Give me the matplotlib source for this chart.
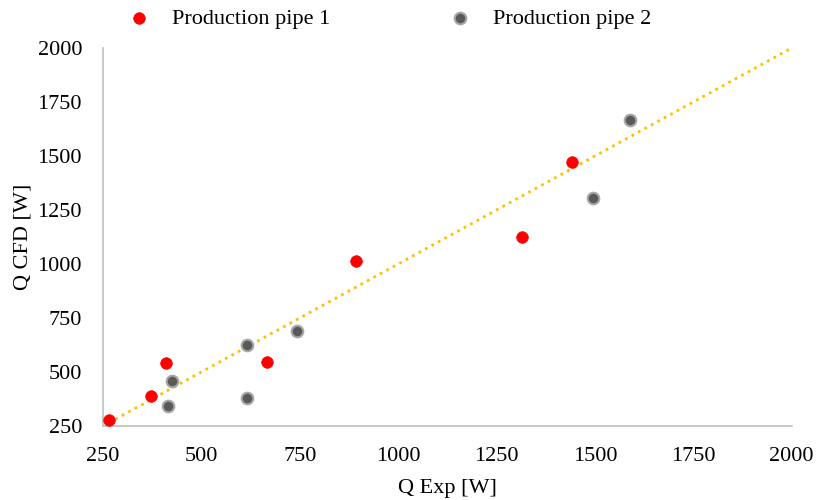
import matplotlib
matplotlib.use("Agg")
import matplotlib.pyplot as plt

plt.rcParams['font.family'] = ['Liberation Serif', 'DejaVu Serif']

# measured vs computed heat flow
pipe1_exp = [265, 372, 410, 667, 893, 1314, 1441]
pipe1_cfd = [278, 389, 542, 546, 1014, 1125, 1472]

pipe2_exp = [415, 425, 616, 616, 743, 1495, 1589]
pipe2_cfd = [343, 458, 625, 380, 690, 1306, 1667]

line_x = [265, 2000]
line_y = [265, 2000]

fig = plt.figure(figsize=(8.17, 5), dpi=100)
ax = fig.add_axes([0.126, 0.148, 0.843, 0.756])

ax.plot(line_x, line_y, linestyle=':', color='#FFC000', linewidth=2, zorder=1)
ax.scatter(pipe1_exp, pipe1_cfd, s=70, color='#FF0000', edgecolors='#FF0000',
           linewidths=0.5, label='Production pipe 1', zorder=3)
ax.scatter(pipe2_exp, pipe2_cfd, s=70, color='#595959', edgecolors='#A6A6A6',
           linewidths=1.5, label='Production pipe 2', zorder=3)

ax.set_xlim(250, 2000)
ax.set_ylim(250, 2000)
ax.set_xticks(range(250, 2001, 250))
ax.set_yticks(range(250, 2001, 250))
ax.tick_params(length=0, labelsize=16)
ax.tick_params(axis='x', pad=15)
ax.tick_params(axis='y', pad=15)

for s in ['top', 'right']:
    ax.spines[s].set_visible(False)
for s in ['left', 'bottom']:
    ax.spines[s].set_color('#BFBFBF')
    ax.spines[s].set_linewidth(1.2)

ax.set_xlabel('Q Exp [W]', fontsize=16)
ax.set_ylabel('Q CFD [W]', fontsize=16)
ax.xaxis.set_label_coords(0.5, -0.14)
ax.yaxis.set_label_coords(-0.103, 0.5)

fig.legend(loc='center left', bbox_to_anchor=(0.143, 0.963), ncol=2, frameon=False,
           fontsize=16, borderpad=0, handlelength=1.0, handletextpad=1.0,
           columnspacing=5.3, markerscale=1.0)

plt.savefig('out.png', dpi=100)
